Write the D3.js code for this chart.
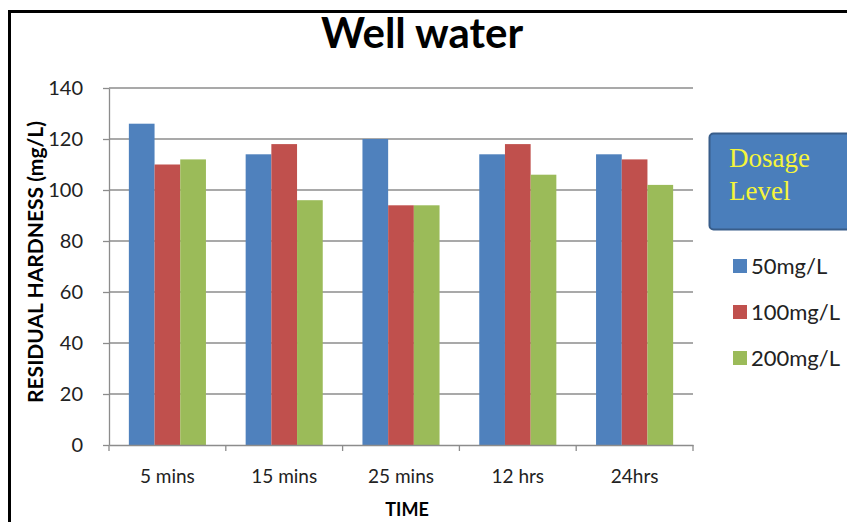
<!DOCTYPE html>
<html><head><meta charset="utf-8">
<script src="https://cdn.jsdelivr.net/npm/d3@7"></script>
<style>body{margin:0;background:#fff}svg{display:block}</style>
</head><body>
<svg id="c" width="847" height="522"></svg>
<script>
const categories = ["5 mins","15 mins","25 mins","12 hrs","24hrs"];
const seriesNames = ["50mg/L","100mg/L","200mg/L"];
const s50 = [126,114,120,114,114];
const s100 = [110,118,94,118,112];
const s200 = [112,96,94,106,102];
const yTicks = [0,20,40,60,80,100,120,140];
const colors = ["#4F81BD","#C0504D","#9BBB59"];
const seriesVals = [s50,s100,s200];

const svg = d3.select("#c");
const font = "Lato, 'Open Sans', sans-serif";
const L=109, R=693, T=88, B=445;

svg.append("rect").attr("x",9.5).attr("y",11.5).attr("width",900).attr("height",600)
  .attr("fill","#fff").attr("stroke","#000").attr("stroke-width",3);

const y = d3.scaleLinear().domain([0,140]).range([B,T]);
const x0 = d3.scaleBand().domain(categories).range([L,R]).paddingInner(0.34).paddingOuter(0.17);
const x1 = d3.scaleBand().domain(seriesNames).range([0,x0.bandwidth()]);

// gridlines
svg.append("g").selectAll("line").data(yTicks.filter(d=>d>0)).join("line")
  .attr("x1",L).attr("x2",R).attr("y1",d=>y(d)).attr("y2",d=>y(d))
  .attr("stroke","#8c8c8c").attr("stroke-width",1.3);

// bars
const g = svg.append("g");
categories.forEach((c,i)=>{
  seriesNames.forEach((s,j)=>{
    const v = seriesVals[j][i];
    g.append("rect").attr("x",x0(c)+x1(s)).attr("y",y(v))
      .attr("width",x1.bandwidth()).attr("height",B-y(v)).attr("fill",colors[j]);
  });
});

// y axis
const ya = svg.append("g").attr("transform",`translate(${L},0)`)
  .call(d3.axisLeft(y).tickValues(yTicks).tickSize(6).tickPadding(20).tickSizeOuter(0));
ya.select(".domain").attr("stroke","#8c8c8c").attr("stroke-width",1.3);
ya.selectAll(".tick line").attr("stroke","#8c8c8c").attr("stroke-width",1.3);
ya.selectAll("text").attr("font-family",font).attr("font-size",20).attr("fill","#222");

// x axis
const xa = svg.append("g").attr("transform",`translate(0,${B})`)
  .call(d3.axisBottom(x0).tickSize(0).tickPadding(25));
xa.select(".domain").attr("stroke","#8c8c8c").attr("stroke-width",1.3);
xa.selectAll("text").attr("font-family",font).attr("font-size",19).attr("fill","#222");
const bounds = d3.range(categories.length+1).map(i=>L+i*(R-L)/categories.length);
svg.append("g").selectAll("line").data(bounds).join("line")
  .attr("x1",d=>d).attr("x2",d=>d).attr("y1",B).attr("y2",B+6)
  .attr("stroke","#8c8c8c").attr("stroke-width",1.3);

// titles
svg.append("text").attr("x",422).attr("y",48).attr("text-anchor","middle")
  .attr("font-family",font).attr("font-weight","bold").attr("font-size",42).attr("fill","#000").text("Well water");
svg.append("text").attr("transform","translate(43,262) rotate(-90)").attr("text-anchor","middle")
  .attr("font-family",font).attr("font-weight","bold").attr("font-size",21).attr("fill","#000").text("RESIDUAL HARDNESS (mg/L)");
svg.append("text").attr("x",407).attr("y",516).attr("text-anchor","middle")
  .attr("font-family",font).attr("font-weight","bold").attr("font-size",18).attr("fill","#000").text("TIME");

// legend title box
svg.append("rect").attr("x",709.5).attr("y",133.5).attr("width",160).attr("height",96).attr("rx",4)
  .attr("fill","#4A7EBB").attr("stroke","#385D8A").attr("stroke-width",2);
svg.append("text").attr("x",729).attr("y",167).attr("font-family","'Liberation Serif', serif")
  .attr("font-size",27).attr("fill","#F5F53A").text("Dosage");
svg.append("text").attr("x",729).attr("y",200).attr("font-family","'Liberation Serif', serif")
  .attr("font-size",27).attr("fill","#F5F53A").text("Level");

// legend entries
const leg = svg.append("g");
const legY = d3.scalePoint().domain(seriesNames).range([266,358]);
seriesNames.forEach((s,j)=>{
  leg.append("rect").attr("x",733).attr("y",legY(s)-7).attr("width",14).attr("height",14).attr("fill",colors[j]);
  leg.append("text").attr("x",751).attr("y",legY(s)).attr("dy","0.35em")
    .attr("font-family",font).attr("font-size",22).attr("fill","#222").text(s);
});
</script>
</body></html>
